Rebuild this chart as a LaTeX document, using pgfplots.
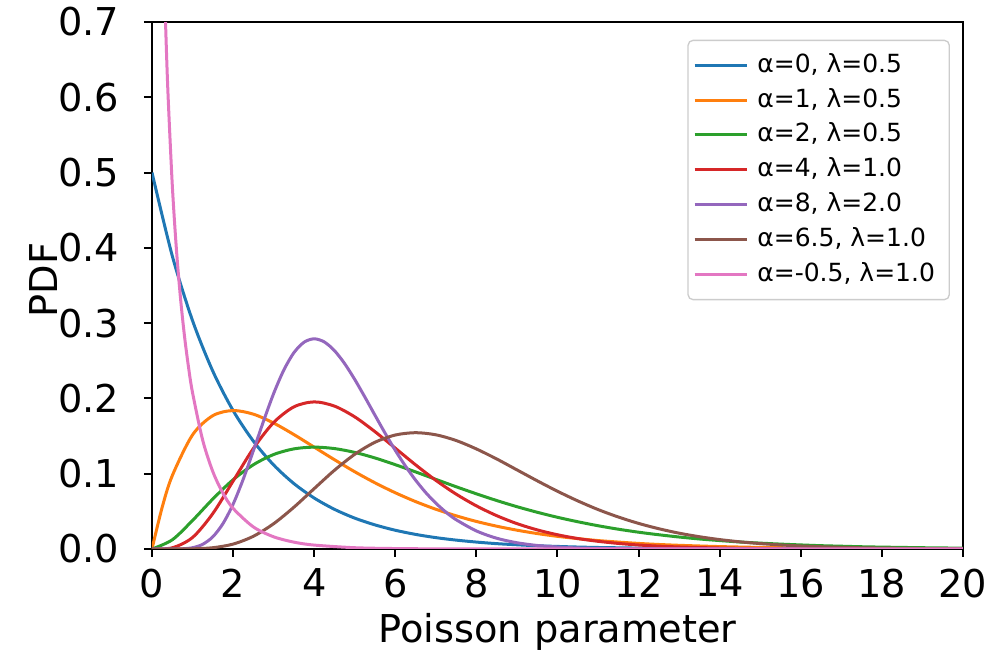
\documentclass[border=0pt]{standalone}
\usepackage{fontspec}
\setmainfont{DejaVu Sans}
\usepackage{pgfplots}
\pgfplotsset{compat=1.18}
\definecolor{c0}{HTML}{1F77B4}
\definecolor{c1}{HTML}{FF7F0E}
\definecolor{c2}{HTML}{2CA02C}
\definecolor{c3}{HTML}{D62728}
\definecolor{c4}{HTML}{9467BD}
\definecolor{c5}{HTML}{8C564B}
\definecolor{c6}{HTML}{E377C2}
\begin{document}
\begin{tikzpicture}
\useasboundingbox (-45.6pt,-30.9pt) rectangle (252.6pt,164.7pt);
\begin{axis}[
  scale only axis,
  width=243.3pt, height=158.1pt,
  xmin=0, xmax=20, ymin=0, ymax=0.7,
  xtick={0,2,...,20},
  ytick={0,0.1,0.2,0.3,0.4,0.5,0.6,0.7},
  yticklabel style={/pgf/number format/fixed, /pgf/number format/fixed zerofill, /pgf/number format/precision=1, inner xsep=0pt, anchor=east, xshift=-7.2pt},
  xticklabel style={inner ysep=0pt, anchor=north, yshift=-3.4pt},
  /pgf/number format/assume math mode=true,
  tick label style={font=\fontsize{11.5}{13}\selectfont},
  label style={font=\fontsize{11.5}{13}\selectfont},
  tick align=outside,
  major tick length=2.4pt,
  tick style={black, line width=0.6pt},
  axis line style={line width=0.6pt},
  xtick pos=bottom, ytick pos=left,
  xlabel={Poisson parameter},
  ylabel={PDF},
  xlabel style={at={(axis description cs:0.5,-0.1765)}, anchor=base},
  ylabel style={at={(axis description cs:-0.1171,0.51)}, anchor=base},
  legend cell align=left,
  legend style={at={(1,1)}, anchor=north east, xshift=-3.9pt, yshift=-5.3pt,
    draw=black!20, rounded corners=1.5pt, fill=white, fill opacity=0.8, text opacity=1,
    font=\fontsize{7.5}{8.5}\selectfont, row sep=-0.7pt, inner xsep=1.5pt, inner ysep=1.8pt,
    nodes={inner xsep=2.8pt}},
  legend image code/.code={\draw[#1, line width=0.9pt] (0pt,0pt) -- (15.6pt,0pt);},
  every axis plot/.append style={line width=0.9pt, smooth},
]
\addplot[c0] coordinates {
(0,0.5) (0.5,0.3894) (1,0.3033) (1.5,0.2362) (2,0.1839) (2.5,0.1433) (3,0.1116) (3.5,0.0869)
(4,0.0677) (4.5,0.0527) (5,0.0410) (5.5,0.0320) (6,0.0249) (6.5,0.0194) (7,0.0151) (7.5,0.0118)
(8,0.0092) (8.5,0.0071) (9,0.0056) (9.5,0.0043) (10,0.0034) (10.5,0.0026) (11,0.0020) (11.5,0.0016)
(12,0.0012) (12.5,0.0010) (13,0.0008) (13.5,0.0006) (14,0.0005) (14.5,0.0004) (15,0.0003) (15.5,0.0002)
(16,0.0002) (16.5,0.0001) (17,0.0001) (18,0.0001) (19,0.00004) (20,0.00002)};
\addlegendentry{α=0, λ=0.5}
\addplot[c1] coordinates {
(0,0) (0.25,0.0552) (0.5,0.0974) (1,0.1516) (1.5,0.1771) (2,0.1839) (2.5,0.1791) (3,0.1673) (3.5,0.1520)
(4,0.1353) (4.5,0.1186) (5,0.1026) (5.5,0.0879) (6,0.0747) (6.5,0.0630) (7,0.0528) (7.5,0.0441)
(8,0.0366) (8.5,0.0303) (9,0.0250) (9.5,0.0205) (10,0.0168) (10.5,0.0138) (11,0.0112) (11.5,0.0092)
(12,0.0074) (12.5,0.0060) (13,0.0049) (13.5,0.0040) (14,0.0032) (14.5,0.0026) (15,0.0021) (15.5,0.0017)
(16,0.0013) (16.5,0.0011) (17,0.0009) (17.5,0.0007) (18,0.0006) (18.5,0.0004) (19,0.0004) (19.5,0.0003) (20,0.0002)};
\addlegendentry{α=1, λ=0.5}
\addplot[c2] coordinates {
(0,0) (0.5,0.0122) (1,0.0379) (1.5,0.0664) (2,0.0920) (2.5,0.1119) (3,0.1255) (3.5,0.1330)
(4,0.1353) (4.5,0.1334) (5,0.1283) (5.5,0.1209) (6,0.1120) (6.5,0.1024) (7,0.0925) (7.5,0.0827)
(8,0.0733) (8.5,0.0644) (9,0.0562) (9.5,0.0488) (10,0.0421) (10.5,0.0362) (11,0.0309) (11.5,0.0263)
(12,0.0223) (12.5,0.0189) (13,0.0159) (13.5,0.0133) (14,0.0112) (14.5,0.0093) (15,0.0078) (15.5,0.0065)
(16,0.0054) (16.5,0.0044) (17,0.0037) (17.5,0.0030) (18,0.0025) (18.5,0.0021) (19,0.0017) (19.5,0.0014) (20,0.0011)};
\addlegendentry{α=2, λ=0.5}
\addplot[c3] coordinates {
(0,0) (0.5,0.0016) (1,0.0153) (1.5,0.0471) (2,0.0902) (2.5,0.1336) (3,0.1680) (3.5,0.1888)
(4,0.1954) (4.5,0.1898) (5,0.1755) (5.5,0.1558) (6,0.1339) (6.5,0.1118) (7,0.0912) (7.5,0.0729)
(8,0.0573) (8.5,0.0443) (9,0.0337) (9.5,0.0254) (10,0.0189) (10.5,0.0139) (11,0.0102) (11.5,0.0074)
(12,0.0053) (12.5,0.0038) (13,0.0027) (13.5,0.0019) (14,0.0013) (14.5,0.0009) (15,0.0006)
(16,0.0003) (17,0.00014) (18,0.00007) (19,0.00003) (20,0.00001)};
\addlegendentry{α=4, λ=1.0}
\addplot[c4] coordinates {
(0,0) (0.25,0) (0.5,0.00002) (0.75,0.00028) (1,0.0017) (1.25,0.0062) (1.5,0.0162) (1.75,0.0337)
(2,0.0595) (2.25,0.0927) (2.5,0.1306) (2.75,0.1697) (3,0.2065) (3.25,0.2376) (3.5,0.2608) (3.75,0.2747)
(4,0.2792) (4.25,0.2750) (4.5,0.2635) (4.75,0.2463) (5,0.2252) (5.25,0.2018) (5.5,0.1776) (5.75,0.1537)
(6,0.1310) (6.25,0.1102) (6.5,0.0915) (6.75,0.0750) (7,0.0609) (7.25,0.0489) (7.5,0.0389) (8,0.0240)
(8.5,0.0143) (9,0.0083) (9.5,0.0047) (10,0.0026) (10.5,0.0014) (11,0.0008) (12,0.0002) (13,0.00005) (14,0) (20,0)};
\addlegendentry{α=8, λ=2.0}
\addplot[c5] coordinates {
(0,0) (0.5,0.000004) (1,0.0002) (1.5,0.0017) (2,0.0065) (2.5,0.0169) (3,0.0336) (3.5,0.0555)
(4,0.0802) (4.5,0.1046) (5,0.1258) (5.5,0.1418) (6,0.1514) (6.5,0.1545) (7,0.1517) (7.5,0.1441)
(8,0.1329) (8.5,0.1196) (9,0.1051) (9.5,0.0906) (10,0.0767) (10.5,0.0639) (11,0.0524) (11.5,0.0425)
(12,0.0340) (12.5,0.0269) (13,0.0210) (13.5,0.0163) (14,0.0125) (14.5,0.0095) (15,0.0072) (15.5,0.0054)
(16,0.0040) (16.5,0.0030) (17,0.0022) (17.5,0.0016) (18,0.0012) (18.5,0.0009) (19,0.0006) (19.5,0.0004) (20,0.0003)};
\addlegendentry{α=6.5, λ=1.0}
\addplot[c6] coordinates {
(0.2,1.033) (0.25,0.8788) (0.3,0.7631) (0.35,0.6720) (0.4,0.5980) (0.5,0.4839) (0.6,0.3997) (0.7,0.3349)
(0.8,0.2834) (0.9,0.2418) (1,0.2076) (1.25,0.1446) (1.5,0.1028) (1.75,0.0741) (2,0.0540) (2.5,0.0293)
(3,0.0162) (3.5,0.0091) (4,0.0052) (5,0.0017) (6,0.0006) (7,0.0002) (8,0.0001) (10,0.00001) (20,0)};
\addlegendentry{α=-0.5, λ=1.0}
\end{axis}
\end{tikzpicture}
\end{document}
